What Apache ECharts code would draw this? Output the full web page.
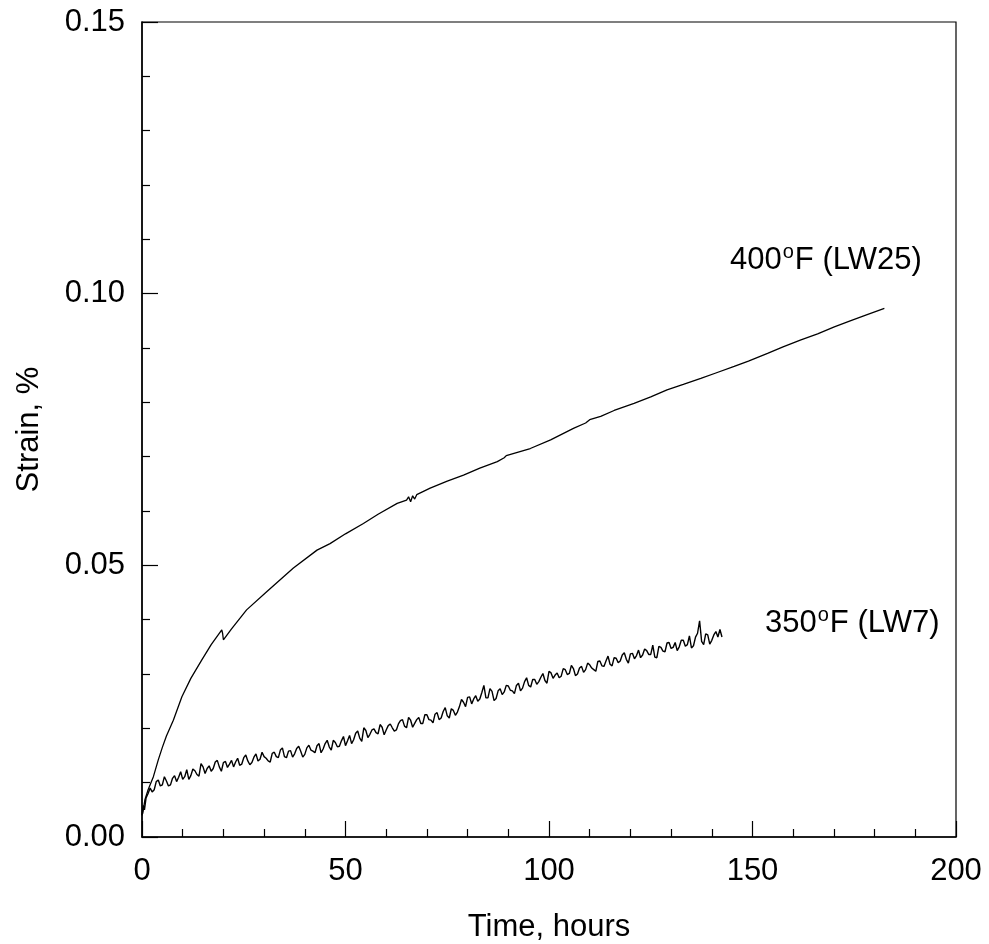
<!DOCTYPE html>
<html>
<head>
<meta charset="utf-8">
<script src="https://cdn.jsdelivr.net/npm/echarts@6/dist/echarts.min.js"></script>
<style>html,body{margin:0;padding:0;background:#fff;}#c{width:989px;height:944px;}</style>
</head>
<body>
<div id="c"></div>
<script>
const xTicks = [0, 50, 100, 150, 200];
const yTicks = [0.00, 0.05, 0.10, 0.15];
const xTitle = 'Time, hours';
const yTitle = 'Strain, %';
const label400 = ['400', 'o', 'F (LW25)'];
const label350 = ['350', 'o', 'F (LW7)'];

// 400°F (LW25): [time h, strain %]
const lw25 = [[0,0.0040],[0.2,0.0044],[0.7,0.0068],[1.5,0.0087],[2.8,0.0111],[4,0.0142],[5,0.0165],[6,0.0186],[7.7,0.0215],[9.8,0.0258],[12,0.0292],[14.7,0.0326],[17,0.0354],[19.6,0.0381],[19.8,0.0375],[20,0.0363],[22,0.0383],[25.7,0.0418],[30.7,0.0452],[37.2,0.0495],[43,0.0528],[46.2,0.0540],[50,0.0558],[54.4,0.0577],[58,0.0594],[62.7,0.0614],[65,0.0620],[65.5,0.0626],[66,0.0617],[66.5,0.0628],[67,0.0622],[67.5,0.0630],[70.8,0.0642],[75,0.0655],[79,0.0666],[83,0.0679],[87.3,0.0691],[89,0.0698],[89.5,0.0702],[95.4,0.0715],[100.4,0.0731],[106,0.0752],[109,0.0762],[110,0.0768],[112.7,0.0774],[116,0.0785],[120.9,0.0798],[125,0.0810],[129,0.0823],[133,0.0833],[137.3,0.0844],[141,0.0854],[145.5,0.0866],[149,0.0876],[153.7,0.0890],[157.5,0.0902],[161.9,0.0915],[166,0.0926],[170.1,0.0939],[174,0.0950],[178,0.0961],[182.4,0.0973]];

// 350°F (LW7): [time h, strain %]
const lw7 = [[0,0.0040],[0.3,0.0058],[0.6,0.0050],[1,0.0072],[1.5,0.0080],[2,0.0090],[2.5,0.0083],[3,0.0087],[3.5,0.0102],[4,0.0105],[4.5,0.0094],[5,0.0096],[5.5,0.0111],[6,0.0103],[6.5,0.0094],[7,0.0096],[7.5,0.0108],[8,0.0113],[8.5,0.0102],[9,0.0110],[9.5,0.0120],[10,0.0106],[10.5,0.0111],[11,0.0124],[11.5,0.0106],[12,0.0113],[12.5,0.0125],[13,0.0122],[13.5,0.0115],[14,0.0112],[14.5,0.0135],[15,0.0129],[15.5,0.0117],[16,0.0126],[16.5,0.0131],[17,0.0121],[17.5,0.0126],[18,0.0138],[18.5,0.0141],[19,0.0129],[19.5,0.0121],[20,0.0137],[20.5,0.0139],[21,0.0128],[21.5,0.0134],[22,0.0141],[22.5,0.0129],[23,0.0138],[23.5,0.0145],[24,0.0132],[24.5,0.0134],[25,0.0146],[25.5,0.0151],[26,0.0140],[26.5,0.0133],[27,0.0137],[27.5,0.0147],[28,0.0153],[28.5,0.0140],[29,0.0143],[29.5,0.0156],[30,0.0148],[30.5,0.0145],[31,0.0140],[31.5,0.0138],[32,0.0154],[32.5,0.0156],[33,0.0148],[33.5,0.0146],[34,0.0160],[34.5,0.0164],[35,0.0148],[35.5,0.0146],[36,0.0158],[36.5,0.0159],[37,0.0147],[37.5,0.0153],[38,0.0163],[38.5,0.0167],[39,0.0158],[39.5,0.0147],[40,0.0152],[40.5,0.0164],[41,0.0169],[41.5,0.0160],[42,0.0158],[42.5,0.0155],[43,0.0168],[43.5,0.0172],[44,0.0155],[44.5,0.0162],[45,0.0172],[45.5,0.0178],[46,0.0166],[46.5,0.0160],[47,0.0178],[47.5,0.0174],[48,0.0166],[48.5,0.0167],[49,0.0177],[49.5,0.0185],[50,0.0168],[50.5,0.0177],[51,0.0187],[51.5,0.0172],[52,0.0179],[52.5,0.0191],[53,0.0195],[53.5,0.0182],[54,0.0176],[54.5,0.0201],[55,0.0196],[55.5,0.0183],[56,0.0189],[56.5,0.0197],[57,0.0199],[57.5,0.0192],[58,0.0190],[58.5,0.0207],[59,0.0202],[59.5,0.0188],[60,0.0197],[60.5,0.0205],[61,0.0208],[61.5,0.0201],[62,0.0195],[62.5,0.0197],[63,0.0208],[63.5,0.0214],[64,0.0216],[64.5,0.0204],[65,0.0201],[65.5,0.0220],[66,0.0215],[66.5,0.0202],[67,0.0209],[67.5,0.0216],[68,0.0220],[68.5,0.0209],[69,0.0209],[69.5,0.0225],[70,0.0225],[70.5,0.0216],[71,0.0215],[71.5,0.0210],[72,0.0226],[72.5,0.0229],[73,0.0216],[73.5,0.0219],[74,0.0231],[74.5,0.0238],[75,0.0223],[75.5,0.0219],[76,0.0236],[76.5,0.0233],[77,0.0224],[77.5,0.0230],[78,0.0240],[78.5,0.0253],[79,0.0248],[79.5,0.0240],[80,0.0257],[80.5,0.0258],[81,0.0245],[81.5,0.0254],[82,0.0260],[82.5,0.0250],[83,0.0254],[83.5,0.0266],[84,0.0279],[84.5,0.0256],[85,0.0256],[85.5,0.0273],[86,0.0268],[86.5,0.0251],[87,0.0255],[87.5,0.0269],[88,0.0273],[88.5,0.0262],[89,0.0267],[89.5,0.0279],[90,0.0278],[90.5,0.0270],[91,0.0269],[91.5,0.0264],[92,0.0279],[92.5,0.0283],[93,0.0269],[93.5,0.0274],[94,0.0286],[94.5,0.0293],[95,0.0279],[95.5,0.0276],[96,0.0290],[96.5,0.0290],[97,0.0281],[97.5,0.0286],[98,0.0294],[98.5,0.0301],[99,0.0288],[99.5,0.0283],[100,0.0305],[100.5,0.0302],[101,0.0292],[101.5,0.0298],[102,0.0302],[102.5,0.0293],[103,0.0296],[103.5,0.0310],[104,0.0308],[104.5,0.0299],[105,0.0301],[105.5,0.0316],[106,0.0310],[106.5,0.0297],[107,0.0300],[107.5,0.0311],[108,0.0314],[108.5,0.0303],[109,0.0308],[109.5,0.0320],[110,0.0317],[110.5,0.0311],[111,0.0308],[111.5,0.0305],[112,0.0323],[112.5,0.0324],[113,0.0315],[113.5,0.0314],[114,0.0324],[114.5,0.0333],[115,0.0318],[115.5,0.0315],[116,0.0330],[116.5,0.0329],[117,0.0321],[117.5,0.0324],[118,0.0335],[118.5,0.0339],[119,0.0327],[119.5,0.0320],[120,0.0337],[120.5,0.0338],[121,0.0328],[121.5,0.0334],[122,0.0344],[122.5,0.0330],[123,0.0335],[123.5,0.0346],[124,0.0343],[124.5,0.0336],[125,0.0336],[125.5,0.0353],[126,0.0331],[126.5,0.0330],[127,0.0351],[127.5,0.0349],[128,0.0342],[128.5,0.0341],[129,0.0357],[129.5,0.0358],[130,0.0347],[130.5,0.0349],[131,0.0358],[131.5,0.0343],[132,0.0350],[132.5,0.0362],[133,0.0362],[133.5,0.0351],[134,0.0354],[134.5,0.0370],[135,0.0348],[135.5,0.0352],[136,0.0368],[136.5,0.0375],[137,0.0398],[137.5,0.0360],[138,0.0354],[138.5,0.0374],[139,0.0372],[139.5,0.0355],[140,0.0362],[140.5,0.0372],[141,0.0378],[141.5,0.0368],[142,0.0382],[142.5,0.0368]];

const FONT = 'Liberation Sans, Arial, Helvetica, sans-serif';
const FS = 31;
const chart = echarts.init(document.getElementById('c'), null, {renderer: 'canvas'});

function richLabel(parts) {
  return '{n|' + parts[0] + '}{s|' + parts[1] + '}{n|' + parts[2] + '}';
}
const richStyle = {
  n: {fontSize: FS, fontFamily: FONT, color: '#000'},
  s: {fontSize: 20, fontFamily: FONT, color: '#000', padding: [0, 1, 16, 1]}
};

chart.setOption({
  animation: false,
  backgroundColor: '#fff',
  grid: {left: 142, right: 33, top: 22, bottom: 107, outerBoundsMode: 'none', containLabel: false,
         show: true, borderColor: '#000', borderWidth: 1.2, backgroundColor: 'transparent'},
  xAxis: {
    type: 'value', min: xTicks[0], max: xTicks[xTicks.length - 1], interval: 50,
    name: xTitle, nameLocation: 'middle', nameGap: 75,
    nameTextStyle: {fontSize: FS, fontFamily: FONT, color: '#000'},
    axisLine: {show: true, lineStyle: {color: '#000', width: 1.5}},
    axisTick: {show: true, inside: true, length: 16, lineStyle: {color: '#000', width: 1.2}},
    minorTick: {show: true, splitNumber: 5, length: 8, lineStyle: {color: '#000', width: 1.2}},
    axisLabel: {fontSize: FS, fontFamily: FONT, color: '#000', margin: 19},
    splitLine: {show: false}
  },
  yAxis: {
    type: 'value', min: yTicks[0], max: yTicks[yTicks.length - 1], interval: 0.05,
    name: yTitle, nameLocation: 'middle', nameGap: 97,
    nameTextStyle: {fontSize: FS, fontFamily: FONT, color: '#000'},
    axisLine: {show: true, lineStyle: {color: '#000', width: 1.5}},
    axisTick: {show: true, inside: true, length: 16, lineStyle: {color: '#000', width: 1.2}},
    minorTick: {show: true, splitNumber: 5, length: 8, lineStyle: {color: '#000', width: 1.2}},
    axisLabel: {fontSize: FS, fontFamily: FONT, color: '#000', margin: 17, formatter: v => v.toFixed(2)},
    splitLine: {show: false}
  },
  series: [
    {name: '400F (LW25)', type: 'line', data: lw25, showSymbol: false, symbol: 'none',
     lineStyle: {color: '#000', width: 1.3}},
    {name: '350F (LW7)', type: 'line', data: lw7, showSymbol: false, symbol: 'none',
     lineStyle: {color: '#000', width: 1.4}}
  ],
  graphic: [
    {type: 'text', left: 730, top: 242, style: {text: richLabel(label400), rich: richStyle}},
    {type: 'text', left: 765, top: 605, style: {text: richLabel(label350), rich: richStyle}}
  ]
});
</script>
</body>
</html>
